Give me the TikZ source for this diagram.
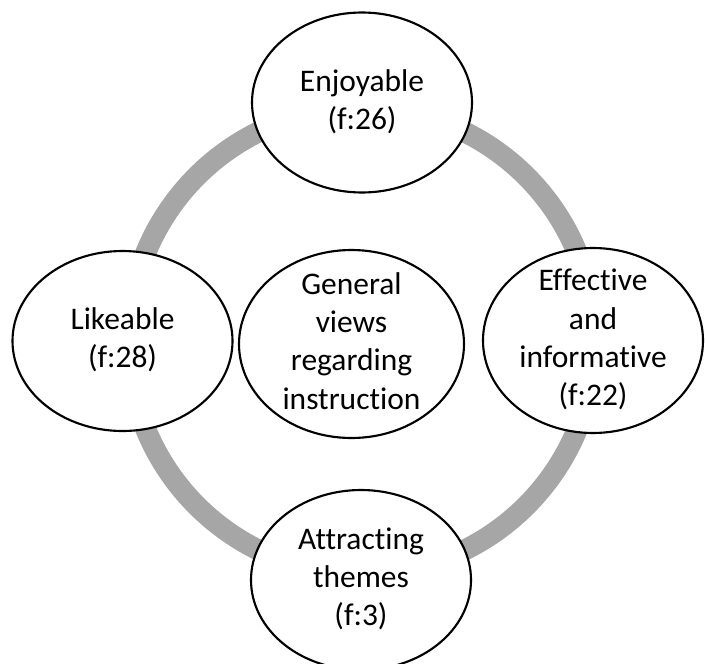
\documentclass[tikz,border=0pt]{standalone}
\usepackage{fontspec}
\setmainfont{Carlito}[Ligatures=CommonOff]
\usetikzlibrary{shapes.geometric}
\definecolor{ringgray}{RGB}{166,166,166}
\tikzset{
  bubble/.style={ellipse, draw=black, line width=1.6pt, fill=white, inner sep=0pt,
    minimum width=165pt, minimum height=135pt},
  lbl/.style={align=center, inner sep=0pt, font=\fontsize{23.6pt}{28.7pt}\selectfont},
  ring/.style={draw=ringgray, line width=15.75pt}
}
\begin{document}
\begin{tikzpicture}[x=0.75pt, y=-0.75pt]
  \useasboundingbox (0,0) rectangle (705,663);
  \coordinate (rc) at (361.5,341);
  \draw[ring] (rc) circle[radius=174.75pt];
  \node[bubble, label={[lbl]center:{\strut Enjoyable\\\strut (f:26)}}] (enjoy) at (362,102.5) {};
  \node[bubble, label={[lbl]center:{\strut Likeable\\\strut (f:28)}}] (like) at (122.5,341) {};
  \node[bubble, minimum height=138.75pt, label={[lbl]center:{\strut Effective\\\strut and\\\strut informative\\\strut (f:22)}}] (effect) at (593,340.5) {};
  \node[bubble, label={[lbl]center:{\strut Attracting\\\strut themes\\\strut (f:3)}}] (attract) at (361,580) {};
  \node[bubble, minimum width=168.75pt, minimum height=141pt, label={[lbl]center:{\strut General\\\strut views\\\strut regarding\\\strut instruction}}] (core) at (351.5,344) {};
\end{tikzpicture}
\end{document}
